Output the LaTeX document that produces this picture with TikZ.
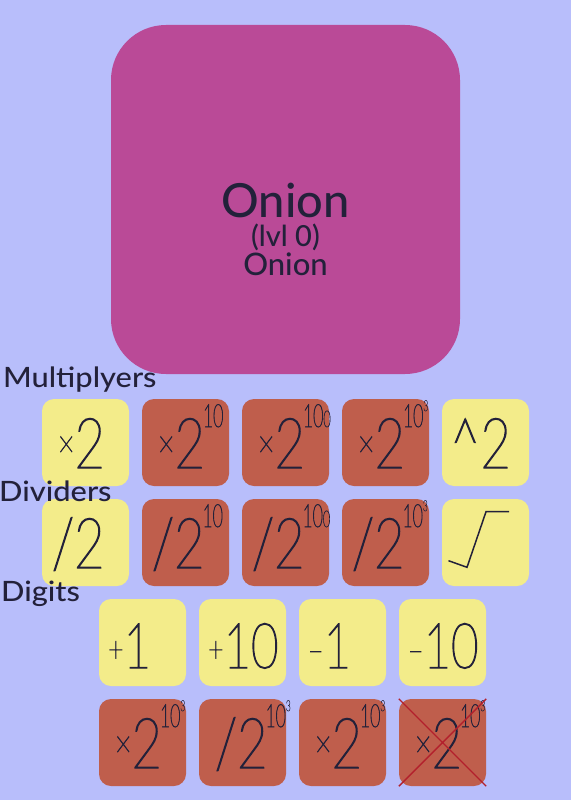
\documentclass[tikz,border=0pt]{standalone}
\usepackage{fontspec}
\usepackage{graphicx}
\setmainfont{Lato Medium}
\newfontfamily\headfont{Lato Medium}[FakeStretch=1.1]
\newfontfamily\tilefont{Lato Thin}[FakeStretch=0.75, FakeBold=2]
\newfontfamily\powfont{Lato Thin}[FakeStretch=0.55, FakeBold=2]

\definecolor{backdrop}{HTML}{B8BEFB}
\definecolor{onionfill}{HTML}{BA4A97}
\definecolor{easyfill}{HTML}{F3EC8A}
\definecolor{hardfill}{HTML}{BF5E4C}
\definecolor{ink}{HTML}{23213A}
\definecolor{strike}{HTML}{B3202C}

\newcommand\op[1]{\raisebox{11pt}{\fontsize{38}{38}\selectfont #1}}
\newcommand\sop[1]{\raisebox{6pt}{\fontsize{36}{36}\selectfont #1}}
\newcommand\pw[1]{\rlap{\hspace{-2pt}\raisebox{41pt}{\powfont\fontsize{32}{32}\selectfont #1}}}
\newcommand\cube{\raisebox{16pt}{\fontsize{15}{15}\selectfont 3}}
\newcommand\tinyzero{{\fontsize{23}{23}\selectfont 0}}

\begin{document}
\begin{tikzpicture}[
  x = 1pt, y = -1pt,
  onion/.style = {fill = onionfill, rounded corners = 55pt, minimum size = 349pt, inner sep = 0pt},
  caption/.style = {text = ink, inner sep = 0pt, anchor = base},
  heading/.style = {text = ink, inner sep = 0pt, anchor = base west, font = \headfont\fontsize{28}{28}\selectfont},
  tile/.style = {rounded corners = 12pt, minimum size = 87pt, inner sep = 0pt,
                 text width = 87pt, align = left, text height = 51pt, text depth = 0pt,
                 text = ink, font = \tilefont\fontsize{70}{70}\selectfont},
  easy/.style = {tile, fill = easyfill},
  hard/.style = {tile, fill = hardfill},
  small/.style = {font = \tilefont\fontsize{63}{63}\selectfont},
  glyphline/.style = {draw = ink, line width = 1.5pt},
  strikeline/.style = {draw = strike, line width = 1.4pt},
  ]
  \useasboundingbox (0,0) rectangle (571,800);
  \fill[backdrop] (0,0) rectangle (571,800);

  \node[onion] (onion) at (285.5,199.5) {};
  \node[caption, font = \fontsize{47}{47}\selectfont] (name) at (285.5,217.5) {Onion};
  \node[caption, font = \fontsize{29}{29}\selectfont] (level) at (285.5,246.5) {(lvl 0)};
  \node[caption, font = \fontsize{31}{31}\selectfont] (kind) at (285.5,275) {Onion};

  \node[easy] (m1) at (85.5,442.5) {\hspace*{16pt}\op{×}2};
  \node[hard] (m2) at (185.5,442.5) {\hspace*{16pt}\op{×}2\pw{10}};
  \node[hard] (m3) at (285.5,442.5) {\hspace*{16pt}\op{×}2\pw{10\tinyzero}};
  \node[hard] (m4) at (385.5,442.5) {\hspace*{16pt}\op{×}2\pw{10\cube}};
  \node[easy] (m5) at (485.5,442.5) {\hspace*{8pt}\textasciicircum 2};

  \node[easy] (d1) at (85.5,542.5) {\hspace*{10pt}/2};
  \node[hard] (d2) at (185.5,542.5) {\hspace*{10pt}/2\pw{10}};
  \node[hard] (d3) at (285.5,542.5) {\hspace*{10pt}/2\pw{10\tinyzero}};
  \node[hard] (d4) at (385.5,542.5) {\hspace*{10pt}/2\pw{10\cube}};
  \node[easy] (d5) at (485.5,542.5) {};
  \draw[glyphline] ([shift={(-37,18.2)}]d5.center) -- ([shift={(-18.5,24.8)}]d5.center)
    -- ([shift={(0.5,-30.8)}]d5.center) -- ([shift={(23.5,-30.8)}]d5.center);

  \node[easy, small] (g1) at (142.5,642.5) {\hspace*{9pt}\sop{+}1};
  \node[easy, small] (g2) at (242.5,642.5) {\hspace*{9pt}\sop{+}10};
  \node[easy, small] (g3) at (342.5,642.5) {\hspace*{9pt}\sop{–}1};
  \node[easy, small] (g4) at (442.5,642.5) {\hspace*{9pt}\sop{–}10};

  \node[hard] (e1) at (142.5,742.5) {\hspace*{16pt}\op{×}2\pw{10\cube}};
  \node[hard] (e2) at (242.5,742.5) {\hspace*{16pt}/2\pw{10\cube}};
  \node[hard] (e3) at (342.5,742.5) {\hspace*{16pt}\op{×}2\pw{10\cube}};
  \node[hard] (e4) at (442.5,742.5) {\hspace*{16pt}\op{×}2\pw{10\cube}};
  \draw[strikeline] (e4.north west) -- (e4.south east) (e4.south west) -- (e4.north east);

  \node[heading] (mult) at (3,387) {Multiplyers};
  \node[heading] (div) at (-1,501) {Dividers};
  \node[heading] (dig) at (1,601) {Digits};
\end{tikzpicture}
\end{document}
